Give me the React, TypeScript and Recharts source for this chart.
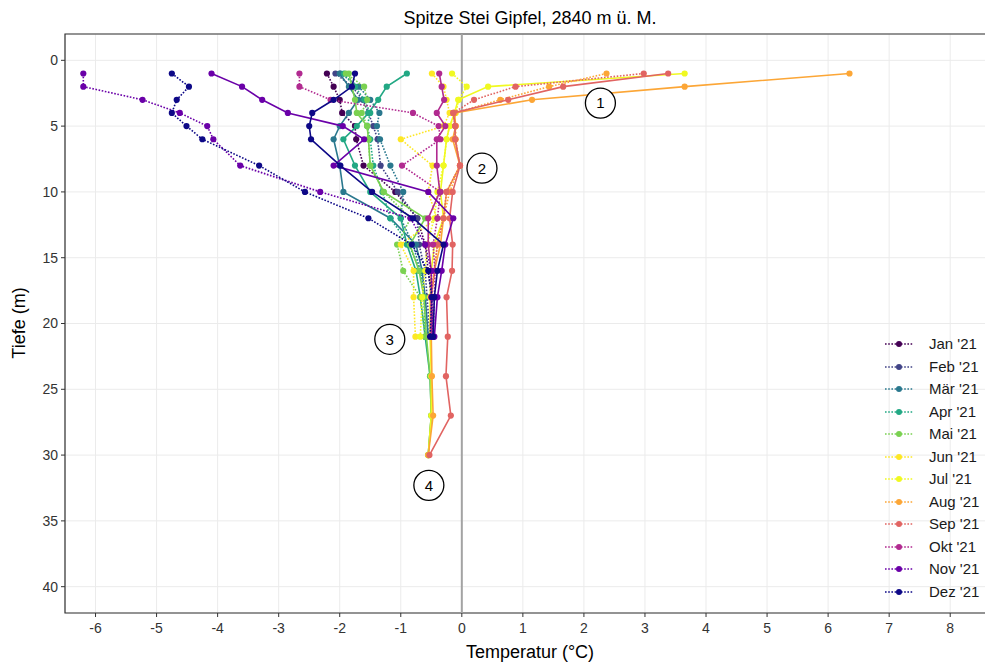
import React from 'react';
import {
  ScatterChart,
  Scatter,
  XAxis,
  YAxis,
  CartesianGrid,
  ReferenceLine,
  ReferenceDot,
  ReferenceArea,
} from 'recharts';

// ---------- categories / labels ----------
const months = ["Jan '21", "Feb '21", "Mär '21", "Apr '21", "Mai '21", "Jun '21", "Jul '21", "Aug '21", "Sep '21", "Okt '21", "Nov '21", "Dez '21"];
const monthColors = ['#440154', '#414487', '#2a788e', '#22a884', '#7ad151', '#fde725', '#f0f921', '#fca636', '#e16462', '#b12a90', '#6a00a8', '#0d0887'];
const depths = [1, 2, 3, 4, 5, 6, 8, 10, 12, 14, 16, 18, 21, 24, 27, 30];
const xTicks = [-6, -5, -4, -3, -2, -1, 0, 1, 2, 3, 4, 5, 6, 7, 8];
const yTicks = [0, 5, 10, 15, 20, 25, 30, 35, 40];

// ---------- dotted profiles (temperature per depth, °C) ----------
const janDotted = [-2.21, -2.1, -2.0, -1.96, -1.75, -1.73, -1.61, -1.09, -0.73, -0.6, -0.55, -0.5, -0.47];
const febDotted = [-2.07, -1.8, -1.62, -1.53, -1.45, -1.38, -1.33, -1.05, -0.73, -0.7, -0.6, -0.57, -0.52];
const maerDotted = [-1.99, -1.69, -1.5, -1.35, -1.39, -1.34, -1.17, -0.96, -1.0, -0.8, -0.68, -0.6, -0.55];
const aprDotted = [-1.93, -1.75, -1.6, -1.5, -1.55, -1.5, -1.45, -1.3, -1.17, -0.87, -0.68, -0.62, -0.6];
const maiDotted = [-1.9, -1.6, -1.55, -1.64, -1.55, -1.53, -1.5, -1.28, -0.84, -1.06, -0.96, -0.68, -0.6];
const junDotted = [-0.49, -0.3, -0.25, -0.2, -0.3, -1.0, -0.48, -0.55, -0.41, -1.0, -0.79, -0.79, -0.76];
const julDotted = [-0.16, 0.08, -0.05, -0.1, -0.2, -0.25, -0.3, -0.4, -0.45, -0.57, -0.6, -0.65, -0.68];
const augDotted = [2.37, 1.43, 0.63, -0.12, -0.1, -0.1, -0.03, -0.2, -0.3, -0.4, -0.45, -0.5, -0.52];
const sepDotted = [2.98, 0.88, 0.2, -0.14, -0.11, -0.11, -0.03, -0.25, -0.3, -0.4, -0.45, -0.5, -0.5];
const oktDotted = [-2.66, -2.66, -2.15, -0.8, -0.38, -0.35, -0.98, -0.35, -0.4, -0.47, -0.44, -0.45, -0.47];
const novDotted = [-6.2, -6.2, -5.23, -4.62, -4.17, -4.07, -3.63, -2.32, -0.84, -0.6, -0.5, -0.49, -0.47];
const dezDotted = [-4.75, -4.47, -4.67, -4.75, -4.51, -4.25, -3.32, -2.57, -1.53, -0.82, -0.55, -0.49, -0.52];

// ---------- solid profiles ----------
const maerSolid = [-2.0, -1.85, -1.7, -1.85, -2.0, -2.1, -2.0, -1.94, -1.17, -0.75, -0.65, -0.6, -0.55];
const aprSolid = [-0.9, -1.23, -1.37, -1.53, -1.72, -1.94, -1.75, -1.5, -1.0, -0.9, -0.75, -0.68, -0.6, -0.52, -0.5, -0.55];
const maiSolid = [-1.85, -1.8, -1.75, -1.72, -1.55, -1.53, -1.5, -1.28, -0.6, -0.85, -0.7, -0.62, -0.58, -0.52, -0.5, -0.55];
const julSolid = [3.65, 0.43, -0.06, -0.12, -0.2, -0.25, -0.3, -0.35, -0.3, -0.45, -0.5, -0.52, -0.52, -0.5, -0.5, -0.55];
const augSolid = [6.35, 3.65, 1.15, -0.12, -0.1, -0.15, -0.03, -0.25, -0.3, -0.35, -0.45, -0.5, -0.5, -0.49, -0.47, -0.55];
const sepSolid = [3.38, 1.66, 0.76, -0.14, -0.11, -0.11, -0.03, -0.15, -0.2, -0.15, -0.16, -0.25, -0.23, -0.26, -0.18, -0.53];
const oktSolid = [-0.37, -0.33, -0.29, -0.41, -0.27, -0.41, -0.41, -0.36, -0.55, -0.55, -0.5, -0.5, -0.5];
const novSolid = [-4.1, -3.6, -3.27, -2.85, -1.95, -1.6, -2.1, -0.55, -0.14, -0.27, -0.33, -0.4, -0.45];
const dezSolid = [-1.75, -1.8, -2.1, -2.45, -2.5, -2.47, -1.99, -1.47, -0.8, -0.3, -0.4, -0.45, -0.47];

// ---------- annotation markers ----------
const markerLabels = ['1', '2', '3', '4'];
const markerTemps = [2.27, 0.33, -1.18, -0.54];
const markerDepths = [3.25, 8.2, 21.2, 32.3];

const seriesList = [
  { m: 0, dotted: true, temps: janDotted },
  { m: 1, dotted: true, temps: febDotted },
  { m: 2, dotted: true, temps: maerDotted },
  { m: 2, dotted: false, temps: maerSolid },
  { m: 3, dotted: true, temps: aprDotted },
  { m: 3, dotted: false, temps: aprSolid },
  { m: 4, dotted: true, temps: maiDotted },
  { m: 4, dotted: false, temps: maiSolid },
  { m: 5, dotted: true, temps: junDotted },
  { m: 6, dotted: true, temps: julDotted },
  { m: 6, dotted: false, temps: julSolid },
  { m: 7, dotted: true, temps: augDotted },
  { m: 7, dotted: false, temps: augSolid },
  { m: 8, dotted: true, temps: sepDotted },
  { m: 8, dotted: false, temps: sepSolid },
  { m: 9, dotted: true, temps: oktDotted },
  { m: 9, dotted: false, temps: oktSolid },
  { m: 10, dotted: true, temps: novDotted },
  { m: 10, dotted: false, temps: novSolid },
  { m: 11, dotted: true, temps: dezDotted },
  { m: 11, dotted: false, temps: dezSolid },
];

const FONT = '"Liberation Sans", Arial, Helvetica, sans-serif';
const DOT_DASH = '1.6 1.6';

export default function App() {
  return (
    <div
      style={{
        position: 'absolute',
        left: 0,
        top: 0,
        width: 985,
        height: 665,
        overflow: 'hidden',
        background: '#ffffff',
        fontFamily: FONT,
      }}
    >
      <ScatterChart
        width={996}
        height={665}
        margin={{ top: 34, right: 0, bottom: 0, left: 0 }}
        style={{ fontFamily: FONT }}
      >
        <CartesianGrid stroke="#ebebeb" strokeWidth={1} />
        <XAxis
          type="number"
          dataKey="t"
          domain={[-6.5, 8.75]}
          ticks={xTicks}
          allowDataOverflow
          height={52}
          axisLine={false}
          tickLine={{ stroke: '#333333' }}
          tickSize={4}
          tickMargin={6}
          tick={{ fontSize: 14, fill: '#333333', fontFamily: FONT }}
        />
        <YAxis
          type="number"
          dataKey="d"
          domain={[-2, 42]}
          ticks={yTicks}
          reversed
          allowDataOverflow
          width={65}
          axisLine={false}
          tickLine={{ stroke: '#333333' }}
          tickSize={4}
          tickMargin={3}
          tick={{ fontSize: 14, fill: '#333333', fontFamily: FONT }}
        />
        <ReferenceLine x={0} stroke="#a3a3a3" strokeWidth={2} />
        {seriesList.map((s, idx) => {
          const color = monthColors[s.m];
          const data = s.temps.map((t, i) => ({ t, d: depths[i] }));
          return (
            <Scatter
              key={idx}
              name={months[s.m]}
              data={data}
              fill={color}
              isAnimationActive={false}
              line={{
                stroke: color,
                strokeWidth: 1.6,
                strokeDasharray: s.dotted ? DOT_DASH : undefined,
              }}
              lineType="joint"
              shape={(p: any) => <circle cx={p.cx} cy={p.cy} r={3.1} fill={color} />}
            />
          );
        })}
        <ReferenceArea
          x1={-6.5}
          x2={8.75}
          y1={-2}
          y2={42}
          fill="none"
          fillOpacity={0}
          stroke="#333333"
          strokeWidth={1.2}
          ifOverflow="visible"
        />
        {markerLabels.map((lab, i) => (
          <ReferenceDot
            key={lab}
            x={markerTemps[i]}
            y={markerDepths[i]}
            r={15}
            fill="#ffffff"
            stroke="#000000"
            strokeWidth={1.3}
            ifOverflow="visible"
            label={{ value: lab, position: 'center', fill: '#000000', fontSize: 15, fontFamily: FONT }}
          />
        ))}
      </ScatterChart>

      {/* title */}
      <div
        style={{
          position: 'absolute',
          left: 280,
          width: 500,
          top: 8,
          lineHeight: '20px',
          fontSize: 18,
          textAlign: 'center',
          color: '#000',
        }}
      >
        Spitze Stei Gipfel, 2840 m ü. M.
      </div>

      {/* x axis title */}
      <div
        style={{
          position: 'absolute',
          left: 380,
          width: 300,
          top: 642,
          lineHeight: '20px',
          fontSize: 18,
          textAlign: 'center',
          color: '#000',
        }}
      >
        Temperatur (°C)
      </div>

      {/* y axis title */}
      <div
        style={{
          position: 'absolute',
          left: 19,
          top: 323,
          fontSize: 18,
          lineHeight: '20px',
          whiteSpace: 'nowrap',
          color: '#000',
          transform: 'translate(-50%, -50%) rotate(-90deg)',
        }}
      >
        Tiefe (m)
      </div>

      {/* legend */}
      {months.map((m, i) => (
        <div
          key={m}
          style={{
            position: 'absolute',
            left: 880,
            top: 344 + i * 22.5 - 9,
            height: 18,
            display: 'flex',
            alignItems: 'center',
          }}
        >
          <svg width={36} height={18} style={{ display: 'block' }}>
            <line x1={5} y1={9} x2={33} y2={9} stroke={monthColors[i]} strokeWidth={1.6} strokeDasharray={DOT_DASH} />
            <circle cx={19} cy={9} r={3} fill={monthColors[i]} />
          </svg>
          <span style={{ marginLeft: 13, fontSize: 15, lineHeight: '18px', color: '#1a1a1a', whiteSpace: 'nowrap' }}>{m}</span>
        </div>
      ))}
    </div>
  );
}
